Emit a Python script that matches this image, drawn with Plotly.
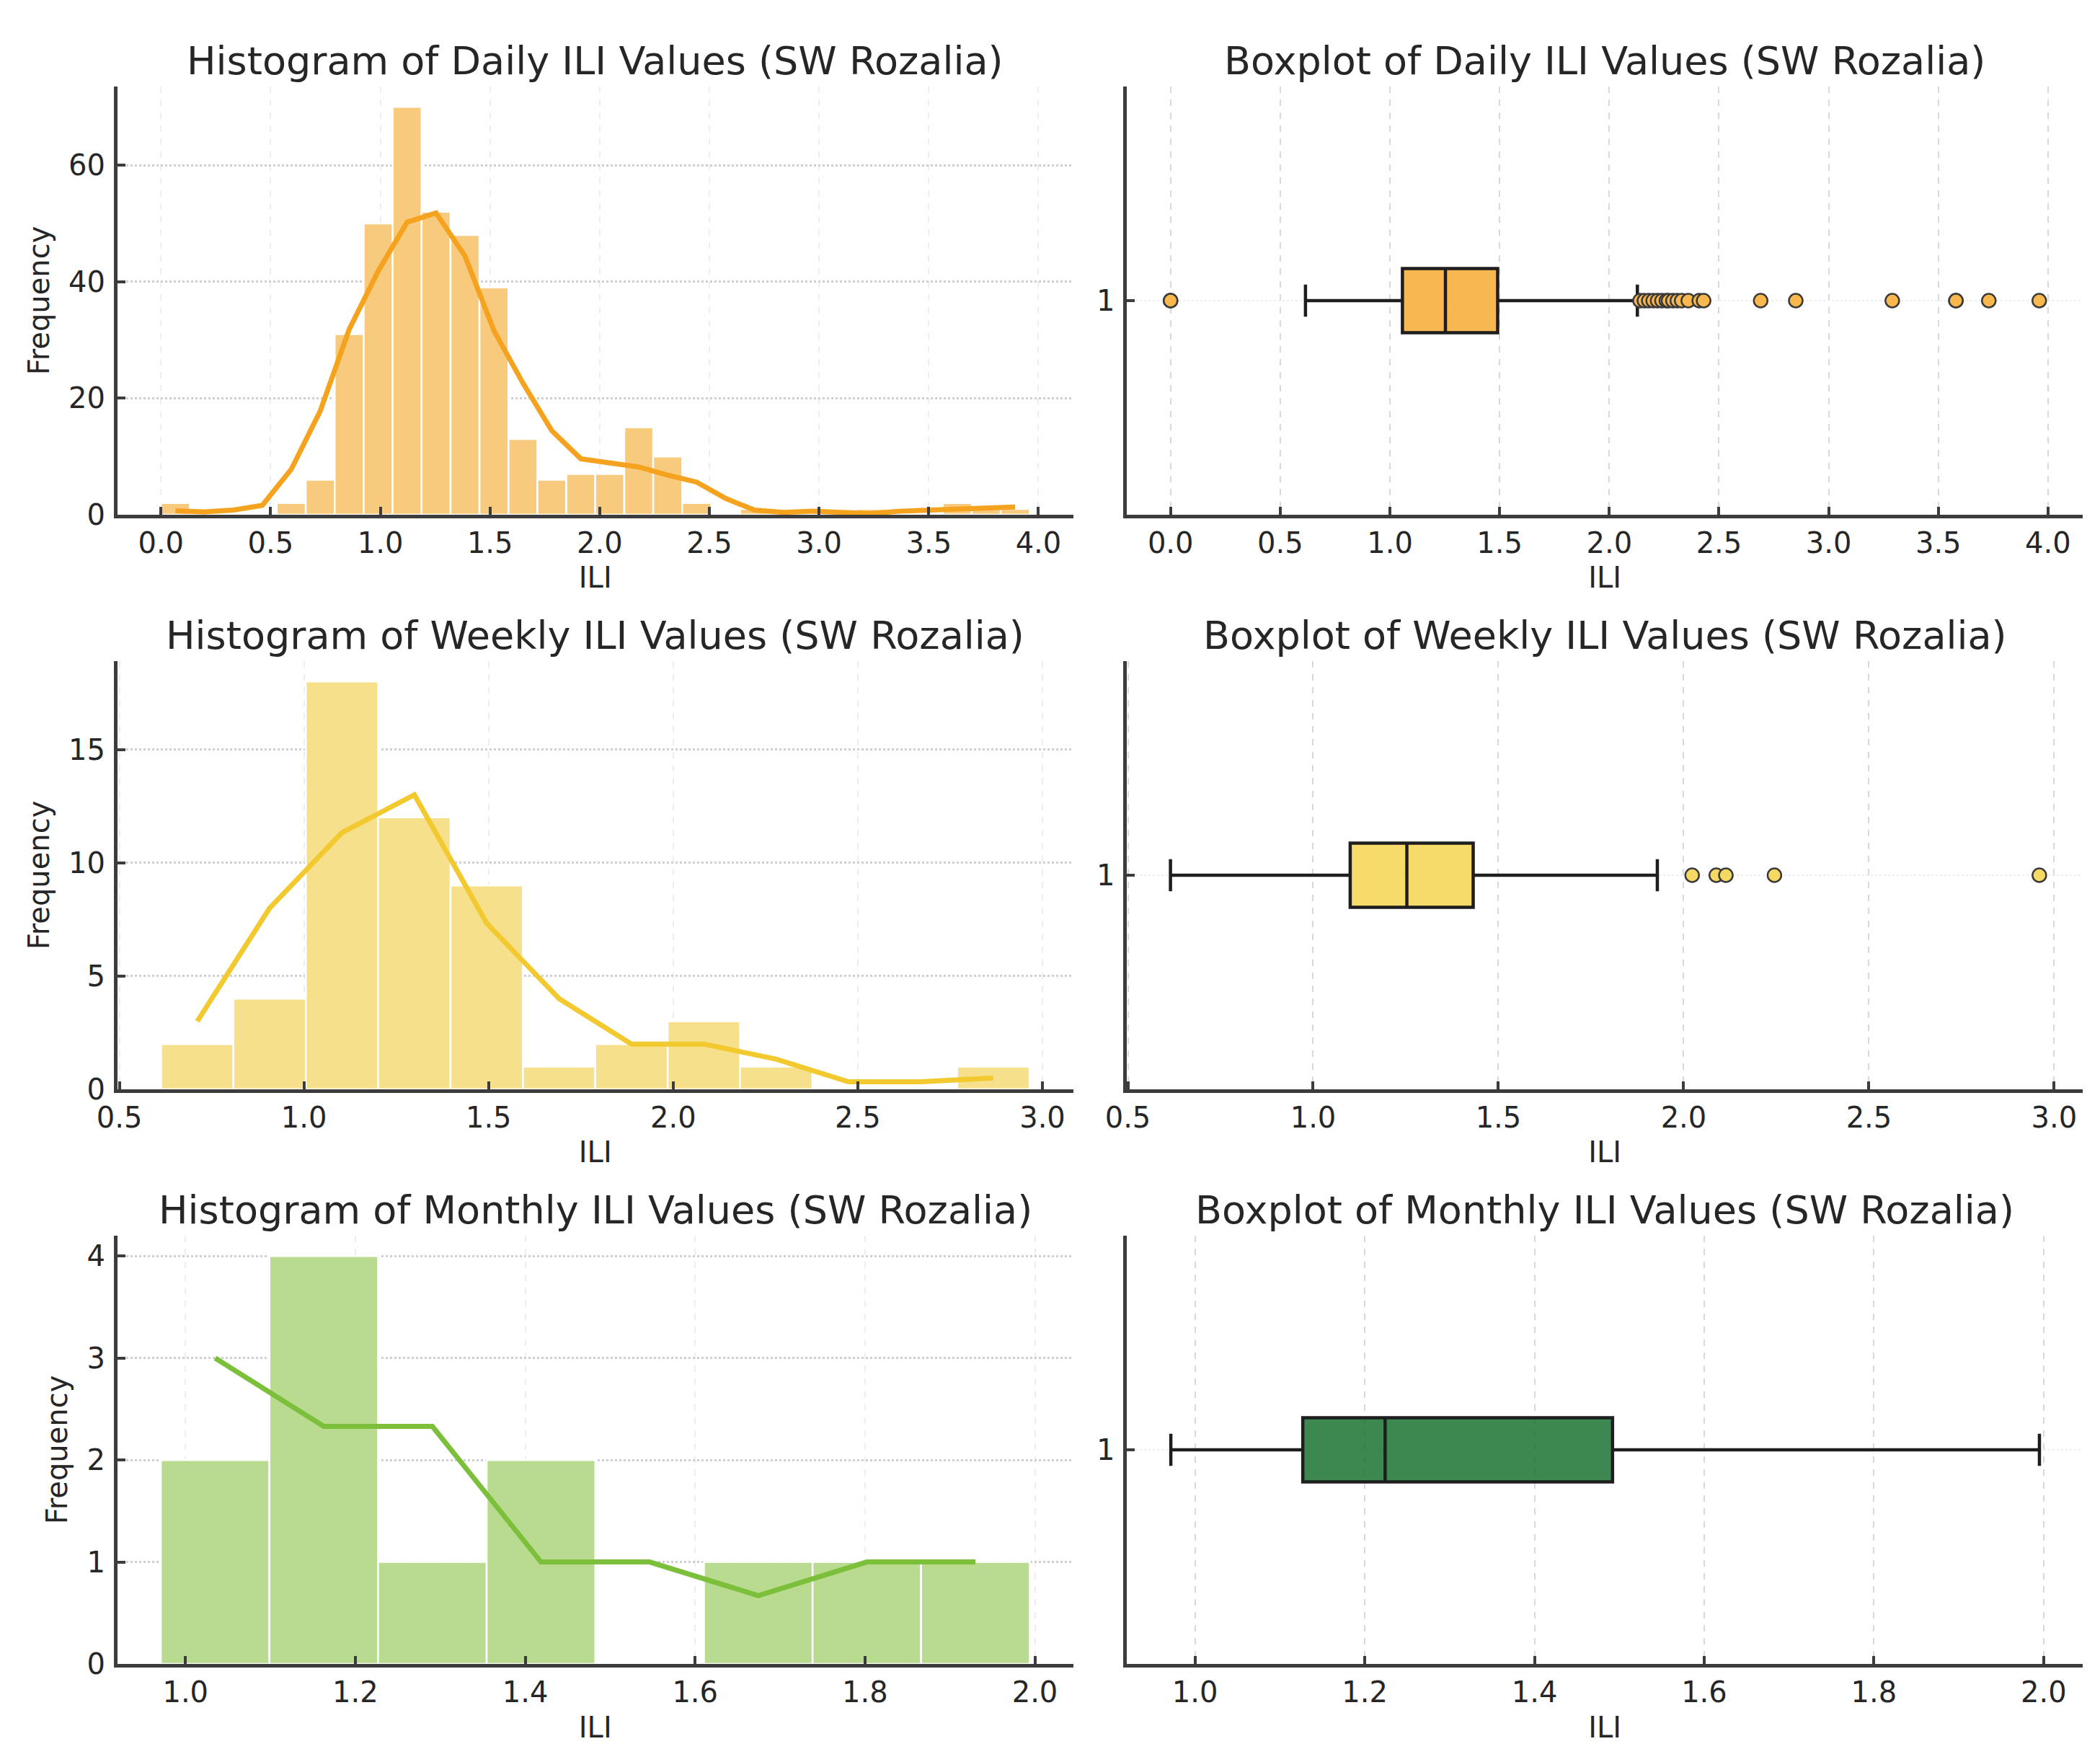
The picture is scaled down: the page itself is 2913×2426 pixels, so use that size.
import plotly.graph_objects as go
from plotly.subplots import make_subplots

# ---- Daily ILI: histogram (30 bins), smoothed line, boxplot ----
daily_edges = [0.0, 0.132, 0.264, 0.396, 0.528, 0.66, 0.792, 0.924, 1.056, 1.188,
               1.32, 1.452, 1.584, 1.716, 1.848, 1.98, 2.112, 2.244, 2.376, 2.508,
               2.64, 2.772, 2.904, 3.036, 3.168, 3.3, 3.432, 3.564, 3.696, 3.828, 3.96]
daily_counts = [2, 0, 0, 0, 2, 6, 31, 50, 70, 52, 48, 39, 13, 6, 7,
                7, 15, 10, 2, 0, 1, 1, 0, 0, 1, 0, 0, 2, 1, 1]
daily_line = [0.67, 0.5, 0.8, 1.6, 7.8, 17.8, 31.8, 41.8, 50.2, 51.8, 44.4, 31.6, 22.6, 14.4, 9.6,
              9.0, 8.2, 6.8, 5.6, 2.8, 0.8, 0.4, 0.6, 0.4, 0.2, 0.6, 0.8, 0.8, 1.0, 1.33]
daily_box = [0.615, 1.057, 1.253, 1.491, 2.128]  # low whisker, q1, median, q3, high whisker
daily_outliers = [0.0, 0.0, 2.14, 2.16, 2.18, 2.2, 2.22, 2.24, 2.26, 2.27, 2.29, 2.31,
                  2.33, 2.36, 2.41, 2.43, 2.69, 2.85, 3.29, 3.58, 3.58, 3.73, 3.96]

# ---- Weekly ILI ----
weekly_edges = [0.613, 0.809, 1.005, 1.201, 1.397, 1.593, 1.789, 1.985, 2.181,
                2.377, 2.573, 2.769, 2.965]
weekly_counts = [2, 4, 18, 12, 9, 1, 2, 3, 1, 0, 0, 1]
weekly_line = [3.0, 8.0, 11.33, 13.0, 7.33, 4.0, 2.0, 2.0, 1.33, 0.33, 0.33, 0.5]
weekly_box = [0.615, 1.1, 1.253, 1.432, 1.929]
weekly_outliers = [2.023, 2.088, 2.114, 2.245, 2.96]

# ---- Monthly ILI ----
monthly_edges = [0.971, 1.0989, 1.2268, 1.3546, 1.4825, 1.6104, 1.7383, 1.8661, 1.994]
monthly_counts = [2, 4, 1, 2, 0, 1, 1, 1]
monthly_line = [3.0, 2.33, 2.33, 1.0, 1.0, 0.67, 1.0, 1.0]
monthly_box = [0.9715, 1.127, 1.224, 1.492, 1.995]
monthly_outliers = []

titles = ['Histogram of Daily ILI Values (SW Rozalia)', 'Boxplot of Daily ILI Values (SW Rozalia)',
          'Histogram of Weekly ILI Values (SW Rozalia)', 'Boxplot of Weekly ILI Values (SW Rozalia)',
          'Histogram of Monthly ILI Values (SW Rozalia)', 'Boxplot of Monthly ILI Values (SW Rozalia)']

FONT = 'DejaVu Sans'
TXT = '#262626'

fig = make_subplots(rows=3, cols=2, subplot_titles=titles,
                    horizontal_spacing=0.0275, vertical_spacing=0.0928)


def add_hist(row, edges, counts, line, bar_color, line_color):
    centers = [(a + b) / 2 for a, b in zip(edges[:-1], edges[1:])]
    widths = [b - a for a, b in zip(edges[:-1], edges[1:])]
    fig.add_trace(go.Bar(x=centers, y=counts, width=widths,
                         marker=dict(color=bar_color, line=dict(color='white', width=2.5))),
                  row=row, col=1)
    fig.add_trace(go.Scatter(x=centers, y=line, mode='lines',
                             line=dict(color=line_color, width=7)),
                  row=row, col=1)


def add_box(row, stats, outliers, fill, point_fill):
    lo, q1, med, q3, hi = stats
    fig.add_trace(go.Box(y=[1], q1=[q1], median=[med], q3=[q3], lowerfence=[lo], upperfence=[hi],
                         orientation='h', width=0.15, whiskerwidth=0.5, boxpoints=False,
                         fillcolor=fill, line=dict(color='#1e1e1e', width=4.5)),
                  row=row, col=2)
    if outliers:
        fig.add_trace(go.Scatter(x=outliers, y=[1] * len(outliers), mode='markers',
                                 marker=dict(size=19, color=point_fill,
                                             line=dict(color='#3a3a3a', width=2.5))),
                      row=row, col=2)


add_hist(1, daily_edges, daily_counts, daily_line, '#F8CA7E', '#F5A31F')
add_hist(2, weekly_edges, weekly_counts, weekly_line, '#F7E08C', '#F2C92E')
add_hist(3, monthly_edges, monthly_counts, monthly_line, '#B9DB90', '#7BBF3A')

add_box(1, daily_box, daily_outliers, 'rgba(246,170,50,0.85)', '#F8B84E')
add_box(2, weekly_box, weekly_outliers, 'rgba(245,212,80,0.85)', '#F6D962')
add_box(3, monthly_box, monthly_outliers, 'rgba(13,105,38,0.8)', '#3D8751')

axis_common = dict(showline=True, linecolor='#3c3c3c', linewidth=5, ticks='inside',
                   ticklen=11, tickwidth=3.5, tickcolor='#3c3c3c', zeroline=False,
                   tickfont=dict(family=FONT, size=40, color=TXT),
                   mirror=False, automargin=False)
hist_x_grid = dict(showgrid=True, gridcolor='#eeeeee', gridwidth=2, griddash='dash')
hist_y_grid = dict(showgrid=True, gridcolor='#cfcfcf', gridwidth=2.5, griddash='dot')
box_x_grid = dict(showgrid=True, gridcolor='#d9d9d9', gridwidth=2, griddash='dash')
box_y_grid = dict(showgrid=True, gridcolor='#eeeeee', gridwidth=2, griddash='dot')
title_font = dict(family=FONT, size=40, color=TXT)

x_ranges = [[-0.198, 4.158], [0.495, 3.083], [0.92, 2.045]]
box_x_ranges = [[-0.198, 4.158], [0.498, 3.077], [0.92, 2.046]]
x_dticks = [0.5, 0.5, 0.2]
y_ranges = [[0, 73.5], [0, 18.9], [0, 4.2]]
y_dticks = [20, 5, 1]

for i in range(3):
    r = i + 1
    fig.update_xaxes(range=x_ranges[i], dtick=x_dticks[i], tick0=0, tickformat='.1f',
                     ticklabelstandoff=0,
                     title=dict(text='ILI', font=title_font, standoff=14),
                     **axis_common, **hist_x_grid, row=r, col=1)
    fig.update_yaxes(range=y_ranges[i], dtick=y_dticks[i], tick0=0, ticklabelstandoff=4,
                     title=dict(text='Frequency', font=title_font, standoff=16),
                     **axis_common, **hist_y_grid, row=r, col=1)
    fig.update_xaxes(range=box_x_ranges[i], dtick=x_dticks[i], tick0=0, tickformat='.1f',
                     ticklabelstandoff=0,
                     title=dict(text='ILI', font=title_font, standoff=14),
                     **axis_common, **box_x_grid, row=r, col=2)
    fig.update_yaxes(range=[0.5, 1.5], tickvals=[1], ticktext=['1'], ticklabelstandoff=4,
                     **axis_common, **box_y_grid, row=r, col=2)

fig.update_annotations(font=dict(family=FONT, size=54, color=TXT), yshift=2)

fig.update_layout(width=2913, height=2426, showlegend=False,
                  paper_bgcolor='white', plot_bgcolor='white',
                  font=dict(family=FONT, color=TXT),
                  margin=dict(l=155, r=32, t=112, b=126))

fig.write_html('out.html')
